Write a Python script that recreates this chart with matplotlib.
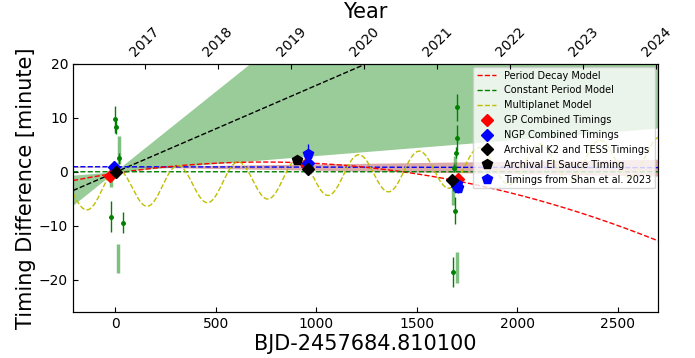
import numpy as np
import matplotlib
matplotlib.use('Agg')
import matplotlib.pyplot as plt

# individual transit timings (days since reference, minutes)
ind_x = [-3, 5, 21, -20, 41, 1702, 1698, 1693, 1686, 1682, 1688, 1680]
ind_y = [9.7, 8.3, 2.5, -8.3, -9.4, 11.9, 6.2, 3.5, 0.7, -2.5, -7.2, -18.5]
ind_err = [2.5, 1.3, 1.0, 2.9, 1.9, 2.5, 2.4, 1.0, 0.8, 1.0, 2.5, 2.8]

ind2_x = [18, 13, -21, 1690, 1680, 1700]
ind2_y = [4.0, -16.0, -1.8, 1.5, -4.0, -17.7]
ind2_err = [2.6, 2.7, 1.0, 1.4, 2.2, 2.9]

gp_x = [-25, 950, 1705]
gp_y = [-0.7, 1.4, -1.3]
ngp_x = [-6, 957, 1700]
ngp_y = [0.8, 1.7, -2.7]
k2tess_x = [5, 960, 1675]
k2tess_y = [0.0, 0.5, -1.5]
elsauce_x = [902]
elsauce_y = [2.1]
shan_x = [957, 1698, 1703]
shan_y = [3.3, -2.3, -3.1]
shan_err = [1.8, 0.8, 0.8]

# model parameters
decay_peak, decay_x0, decay_k = 1.8, 740.0, 3.8e-6
multi_off, multi_slope, multi_amp, multi_per, multi_ph = -3.15, 0.00223, 3.6, 300.0, 10.0
lin_c, lin_s, lin_s_lo, lin_s_hi = -0.1, 0.0161, 0.0030, 0.0298
ngp_c, ngp_s, ngp_ds = 0.92, -0.00006, 0.00058

year_ticks = [2017, 2018, 2019, 2020, 2021, 2022, 2023, 2024]
year0_day, days_per_year = 148.5, 363.3

xlim = (-210, 2700)
ylim = (-26, 20)

fig, ax = plt.subplots(figsize=(6.95, 3.58), dpi=100)
fig.subplots_adjust(left=0.105, right=0.947, bottom=0.128, top=0.822)

t = np.linspace(xlim[0], xlim[1], 2000)

# linear fit wedge
ax.fill_between(t, lin_c + lin_s_lo * t, lin_c + lin_s_hi * t,
                color='green', alpha=0.4, lw=0, zorder=1)
ax.plot(t, lin_c + lin_s * t, 'k--', lw=1, zorder=2)

# ngp constant period band
ax.fill_between(t, ngp_c + (ngp_s - ngp_ds) * t, ngp_c + (ngp_s + ngp_ds) * t,
                color='brown', alpha=0.4, lw=0, zorder=1)
ax.plot(t, ngp_c + ngp_s * t, 'b--', lw=1, zorder=2)

l1, = ax.plot(t, decay_peak - decay_k * (t - decay_x0) ** 2, 'r--', lw=1,
              label='Period Decay Model', zorder=3)
l2, = ax.plot(t, np.zeros_like(t), 'g--', lw=1, label='Constant Period Model', zorder=3)
l3, = ax.plot(t, multi_off + multi_slope * t
              + multi_amp * np.cos(2 * np.pi * (t - multi_ph) / multi_per),
              'y--', lw=1, label='Multiplanet Model', zorder=3)

ax.errorbar(ind2_x, ind2_y, yerr=ind2_err, fmt='none', ecolor='green',
            elinewidth=2.5, alpha=0.5, zorder=4)
ax.errorbar(ind_x, ind_y, yerr=ind_err, fmt='o', color='green', ms=2.5,
            elinewidth=1, capsize=0, zorder=5)

m1, = ax.plot(gp_x, gp_y, 'rD', ms=6, ls='none', label='GP Combined Timings', zorder=6)
m2, = ax.plot(ngp_x, ngp_y, 'bD', ms=6, ls='none', label='NGP Combined Timings', zorder=6)
m3, = ax.plot(k2tess_x, k2tess_y, 'kD', ms=6, ls='none',
              label='Archival K2 and TESS Timings', zorder=7)
m4, = ax.plot(elsauce_x, elsauce_y, 'kp', ms=7, ls='none',
              label='Archival El Sauce Timing', zorder=7)
ax.errorbar(shan_x, shan_y, yerr=shan_err, fmt='none', ecolor='b', elinewidth=1, zorder=6)
m5, = ax.plot(shan_x, shan_y, 'bp', ms=7, ls='none',
              label='Timings from Shan et al. 2023', zorder=6)

ax.set_xlim(*xlim)
ax.set_ylim(*ylim)
ax.set_xticks([0, 500, 1000, 1500, 2000, 2500])
ax.set_yticks([-20, -10, 0, 10, 20])
ax.tick_params(direction='in', labelsize=10)
ax.set_xlabel('BJD-2457684.810100', fontsize=15, labelpad=2)
ax.set_ylabel('Timing Difference [minute]', fontsize=15, labelpad=2)

ax.legend(handles=[l1, l2, l3, m1, m2, m3, m4, m5], loc='upper right',
          fontsize=7, borderaxespad=0.3, framealpha=0.8)

ax2 = ax.twiny()
ax2.set_xlim(2017 + (xlim[0] - year0_day) / days_per_year,
             2017 + (xlim[1] - year0_day) / days_per_year)
ax2.set_xticks(year_ticks)
ax2.set_xticklabels([str(y) for y in year_ticks], rotation=45)
ax2.tick_params(direction='in', labelsize=10)
ax2.set_xlabel('Year', fontsize=15)

fig.savefig('out.png', dpi=100)
